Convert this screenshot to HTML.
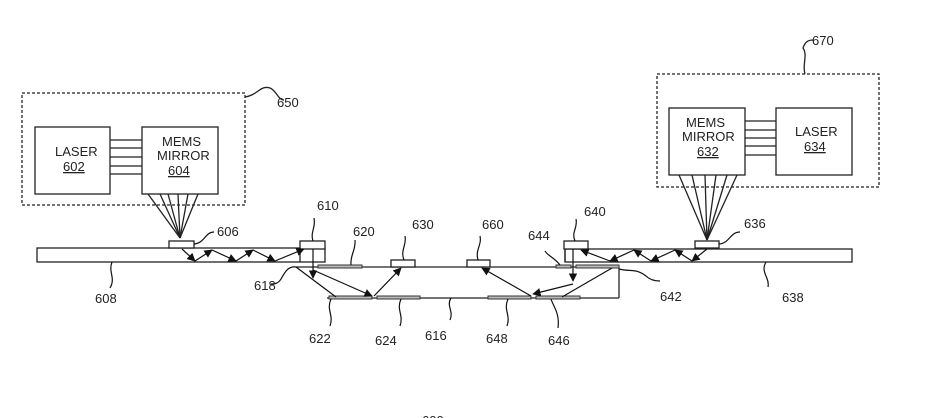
<!DOCTYPE html>
<html><head><meta charset="utf-8"><style>
html,body{margin:0;padding:0;background:#fff;}
svg{display:block;}
text{font-family:"Liberation Sans",sans-serif;font-size:13px;fill:#222;}
</style></head><body>
<svg width="938" height="418" viewBox="0 0 938 418" xmlns="http://www.w3.org/2000/svg">
<defs>
<marker id="a" viewBox="0 0 10 10" refX="9" refY="5" markerWidth="7" markerHeight="7" orient="auto-start-reverse"><path d="M0,0 L10,5 L0,10 z" fill="#111"/></marker>
</defs>
<g stroke="#222" stroke-width="1.3" fill="none">
<!-- left module -->
<rect x="22" y="93" width="223" height="112" stroke-dasharray="3,2"/>
<rect x="35" y="127" width="75" height="67"/>
<rect x="142" y="127" width="76" height="67"/>
<line x1="110" y1="140" x2="142" y2="140"/><line x1="110" y1="148" x2="142" y2="148"/><line x1="110" y1="157" x2="142" y2="157"/><line x1="110" y1="166" x2="142" y2="166"/><line x1="110" y1="174" x2="142" y2="174"/>
<line x1="148" y1="194" x2="180" y2="238"/><line x1="160" y1="194" x2="180" y2="238"/><line x1="168" y1="194" x2="180" y2="238"/><line x1="178" y1="194" x2="180" y2="238"/><line x1="188" y1="194" x2="180" y2="238"/><line x1="198" y1="194" x2="180" y2="238"/>
<path d="M245,97 C258,95 260,85 270,88 C276,90 278,100 284,100"/>
<!-- right module -->
<rect x="657" y="74" width="222" height="113" stroke-dasharray="3,2"/>
<rect x="669" y="108" width="76" height="67"/>
<rect x="776" y="108" width="76" height="67"/>
<line x1="745" y1="121" x2="776" y2="121"/><line x1="745" y1="130" x2="776" y2="130"/><line x1="745" y1="138" x2="776" y2="138"/><line x1="745" y1="146" x2="776" y2="146"/><line x1="745" y1="155" x2="776" y2="155"/>
<line x1="679" y1="175" x2="707" y2="240"/><line x1="692" y1="175" x2="707" y2="240"/><line x1="705" y1="175" x2="707" y2="240"/><line x1="716" y1="175" x2="707" y2="240"/><line x1="727" y1="175" x2="707" y2="240"/><line x1="737" y1="175" x2="707" y2="240"/>
<path d="M805,74 C802,65 808,55 803,48 C805,42 808,40 813,40"/>
<!-- waveguides -->
<rect x="37" y="248" width="288" height="14"/>
<rect x="565" y="249" width="287" height="13"/>
<rect x="169" y="241" width="25" height="7" fill="#fff"/>
<rect x="300" y="241" width="25" height="8" fill="#fff"/>
<line x1="300" y1="249" x2="300" y2="262"/>
<rect x="695" y="241" width="24" height="7" fill="#fff"/>
<rect x="564" y="241" width="24" height="8" fill="#fff"/>
<line x1="565" y1="249" x2="565" y2="262"/>
<!-- 616 -->
<line x1="296" y1="267" x2="619" y2="267"/>
<line x1="327" y1="298" x2="619" y2="298"/>
<line x1="619" y1="267" x2="619" y2="298"/>
<rect x="391" y="260" width="24" height="7" fill="#fff"/>
<rect x="467" y="260" width="23" height="7" fill="#fff"/>
</g>
<g fill="#bbb" stroke="#333" stroke-width="1">
<rect x="318" y="265" width="44" height="3"/>
<rect x="329" y="296" width="43" height="3"/>
<rect x="377" y="296" width="43" height="3"/>
<rect x="488" y="296" width="43" height="3"/>
<rect x="536" y="296" width="44" height="3"/>
<rect x="556" y="265" width="15" height="3"/>
<rect x="576" y="265" width="43" height="3"/>
</g>
<g stroke="#111" stroke-width="1.2" fill="none" marker-end="url(#a)">
<line x1="182" y1="249" x2="195" y2="261"/>
<line x1="195" y1="261" x2="212" y2="250"/>
<line x1="212" y1="250" x2="236" y2="261"/>
<line x1="236" y1="261" x2="253" y2="250"/>
<line x1="253" y1="250" x2="275" y2="261"/>
<line x1="275" y1="261" x2="304" y2="249"/>
<line x1="313" y1="249" x2="313" y2="278"/>
<line x1="313" y1="270" x2="372" y2="296"/>
<line x1="374" y1="296" x2="401" y2="268"/>
<line x1="707" y1="249" x2="692" y2="261"/>
<line x1="692" y1="261" x2="675" y2="250"/>
<line x1="675" y1="250" x2="651" y2="261"/>
<line x1="651" y1="261" x2="634" y2="250"/>
<line x1="634" y1="250" x2="610" y2="261"/>
<line x1="610" y1="261" x2="581" y2="250"/>
<line x1="573" y1="249" x2="573" y2="281"/>
<line x1="573" y1="284" x2="533" y2="294"/>
<line x1="531" y1="296" x2="482" y2="268"/>
</g>
<g stroke="#111" stroke-width="1.2" fill="none">
<line x1="296" y1="267" x2="336" y2="297"/>
<line x1="612" y1="268" x2="562" y2="297"/>
<!-- leaders -->
<path d="M194,244 C205,243 205,232 214,232"/>
<path d="M313,241 C310,232 316,228 314,218"/>
<path d="M351,265 C350,255 356,250 355,240"/>
<path d="M404,260 C400,250 407,245 405,236"/>
<path d="M478,260 C475,250 482,245 480,236"/>
<path d="M575,241 C571,232 578,228 576,219"/>
<path d="M560,265 C555,258 548,256 545,251"/>
<path d="M719,244 C730,243 730,232 740,232"/>
<path d="M619,269 C630,272 636,268 646,276 C650,280 655,281 660,281"/>
<path d="M112,262 C108,272 116,278 110,288"/>
<path d="M766,262 C760,272 770,278 768,287"/>
<path d="M296,267 C288,266 285,272 281,279 C278,284 274,284 271,284"/>
<path d="M331,299 C326,310 334,315 330,326"/>
<path d="M401,299 C396,310 404,315 400,326"/>
<path d="M451,298 C446,306 454,311 450,320"/>
<path d="M508,299 C503,310 511,315 507,326"/>
<path d="M551,299 C553,306 560,313 558,328"/>
</g>
<g>
<text x="55" y="156">LASER</text>
<text x="63" y="171" text-decoration="underline">602</text>
<text x="162" y="146">MEMS</text>
<text x="157" y="160">MIRROR</text>
<text x="168" y="175" text-decoration="underline">604</text>
<text x="686" y="127">MEMS</text>
<text x="682" y="141">MIRROR</text>
<text x="697" y="156" text-decoration="underline">632</text>
<text x="795" y="136">LASER</text>
<text x="804" y="151" text-decoration="underline">634</text>
<text x="277" y="107">650</text>
<text x="812" y="45">670</text>
<text x="217" y="236">606</text>
<text x="317" y="210">610</text>
<text x="353" y="236">620</text>
<text x="412" y="229">630</text>
<text x="482" y="229">660</text>
<text x="528" y="240">644</text>
<text x="584" y="216">640</text>
<text x="744" y="228">636</text>
<text x="660" y="301">642</text>
<text x="782" y="302">638</text>
<text x="95" y="303">608</text>
<text x="254" y="290">618</text>
<text x="309" y="343">622</text>
<text x="375" y="345">624</text>
<text x="425" y="340">616</text>
<text x="486" y="343">648</text>
<text x="548" y="345">646</text>
<text x="422" y="425">600</text>
</g>
</svg>
</body></html>
